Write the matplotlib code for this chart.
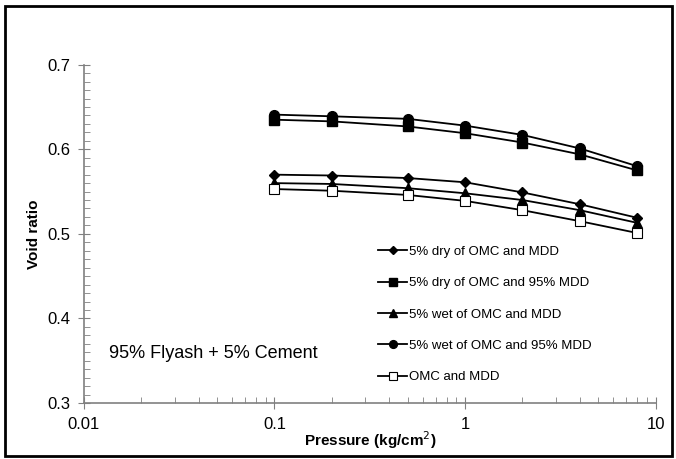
import matplotlib
matplotlib.use('Agg')
import matplotlib.pyplot as plt
from matplotlib.patches import Rectangle
from matplotlib.ticker import FixedLocator, MultipleLocator, LogLocator, NullFormatter

plt.rcParams['font.family'] = ['Liberation Sans', 'DejaVu Sans']

pressure = [0.1, 0.2, 0.5, 1, 2, 4, 8]
dry_mdd = [0.570, 0.569, 0.566, 0.561, 0.549, 0.535, 0.519]
dry_95mdd = [0.635, 0.633, 0.627, 0.619, 0.608, 0.594, 0.575]
wet_mdd = [0.560, 0.559, 0.554, 0.548, 0.540, 0.528, 0.513]
wet_95mdd = [0.641, 0.639, 0.636, 0.628, 0.617, 0.601, 0.580]
omc_mdd = [0.553, 0.551, 0.546, 0.539, 0.528, 0.515, 0.501]

fig = plt.figure(figsize=(6.76, 4.59), dpi=100)
# outer black frame like the pasted Excel chart
fig.patches.append(Rectangle((0.007, 0.006), 0.987, 0.982, transform=fig.transFigure,
                             fill=False, edgecolor='black', linewidth=2))
ax = fig.add_axes([0.124, 0.122, 0.846, 0.737])

ax.plot(pressure, dry_mdd, color='black', lw=1.3, marker='D', ms=5, label='5% dry of OMC and MDD')
ax.plot(pressure, dry_95mdd, color='black', lw=1.3, marker='s', ms=7, label='5% dry of OMC and 95% MDD')
ax.plot(pressure, wet_mdd, color='black', lw=1.3, marker='^', ms=7, label='5% wet of OMC and MDD')
ax.plot(pressure, wet_95mdd, color='black', lw=1.3, marker='o', ms=7, label='5% wet of OMC and 95% MDD')
ax.plot(pressure, omc_mdd, color='black', lw=1.3, marker='s', ms=7, mfc='white', mew=0.8,
        label='OMC and MDD')

ax.set_xscale('log')
ax.set_xlim(0.01, 10)
ax.set_ylim(0.3, 0.7)
ax.xaxis.set_major_locator(FixedLocator([0.01, 0.1, 1, 10]))
ax.set_xticklabels(['0.01', '0.1', '1', '10'])
ax.xaxis.set_minor_locator(LogLocator(base=10, subs=range(2, 10)))
ax.xaxis.set_minor_formatter(NullFormatter())
ax.yaxis.set_major_locator(MultipleLocator(0.1))
ax.yaxis.set_minor_locator(MultipleLocator(0.01))

for s in ['top', 'right']:
    ax.spines[s].set_visible(False)
for s in ['left', 'bottom']:
    ax.spines[s].set_color('#808080')
    ax.spines[s].set_linewidth(1.2)
ax.tick_params(which='major', direction='inout', length=8, color='#808080', labelsize=12, pad=6)
ax.tick_params(which='minor', direction='in', length=4, color='#808080')

ax.set_xlabel('Pressure (kg/cm$^2$)', fontsize=11, fontweight='bold', labelpad=-2)
ax.set_ylabel('Void ratio', fontsize=11, fontweight='bold', labelpad=4)

ax.text(0.0135, 0.359, '95% Flyash + 5% Cement', fontsize=13, va='center')

ax.legend(loc='upper left', bbox_to_anchor=(0.494, 0.500), frameon=False, fontsize=9.5,
          labelspacing=1.45, handlelength=2.2, handletextpad=0.15, markerscale=0.8)

fig.savefig('out.png', dpi=100)
